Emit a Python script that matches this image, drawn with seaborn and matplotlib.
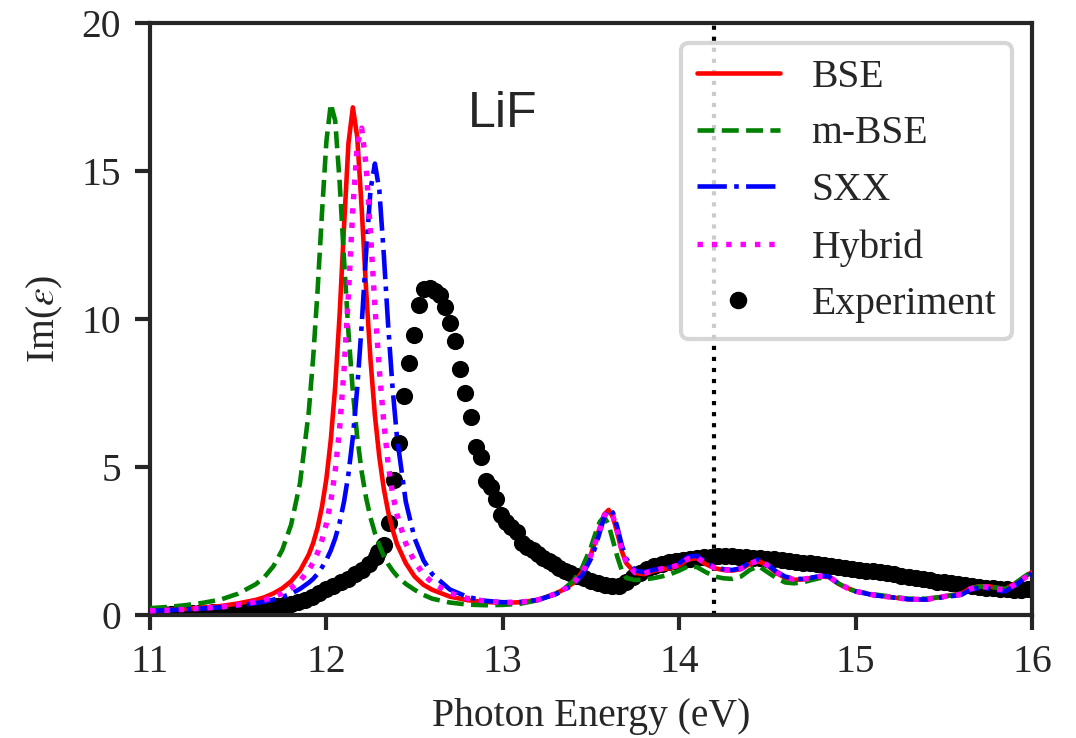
import numpy as np
import pandas as pd
import matplotlib
matplotlib.use("Agg")
import matplotlib.pyplot as plt
import seaborn as sns

# ---------------- data ----------------
energy = [11.0, 11.1, 11.2, 11.3, 11.4, 11.5, 11.6, 11.65, 11.7, 11.75, 11.8, 11.85, 11.9,
          11.925, 11.95, 11.975, 12.0, 12.025, 12.05, 12.075, 12.1, 12.125, 12.15, 12.175, 12.2,
          12.225, 12.25, 12.275, 12.3, 12.325, 12.35, 12.375, 12.4, 12.45, 12.5, 12.55, 12.6,
          12.7, 12.8, 12.9, 13.0, 13.1, 13.2, 13.3, 13.35, 13.4, 13.45, 13.5,
          13.525, 13.55, 13.575, 13.6, 13.625, 13.65, 13.675, 13.7,
          13.75, 13.8, 13.85, 13.9, 13.95, 14.0, 14.05, 14.1, 14.15, 14.2, 14.25, 14.3, 14.35,
          14.4, 14.45, 14.5, 14.55, 14.6, 14.65, 14.7, 14.75, 14.8, 14.85, 14.9, 14.95, 15.0,
          15.1, 15.2, 15.3, 15.4, 15.5, 15.6,
          15.65, 15.7, 15.75, 15.8, 15.85, 15.9, 15.95, 16.0]

bse = [0.15, 0.17, 0.21, 0.25, 0.30, 0.39, 0.51, 0.60, 0.73, 0.90, 1.14, 1.49, 2.04,
       2.43, 2.95, 3.66, 4.60, 5.92, 7.72, 10.15, 13.13, 15.93, 17.15, 16.14, 13.74,
       11.00, 8.62, 6.74, 5.34, 4.28, 3.49, 2.89, 2.40, 1.75, 1.30, 1.02, 0.85,
       0.62, 0.50, 0.44, 0.41, 0.43, 0.51, 0.72, 0.88, 1.08, 1.45, 2.05,
       2.50, 2.95, 3.40, 3.55, 3.30, 2.75, 2.15, 1.75,
       1.42, 1.38, 1.48, 1.55, 1.58, 1.68, 1.88, 1.92, 1.72, 1.58, 1.52, 1.50, 1.55,
       1.72, 1.82, 1.68, 1.42, 1.26, 1.19, 1.20, 1.25, 1.30, 1.28, 1.06, 0.92, 0.80,
       0.68, 0.60, 0.53, 0.52, 0.63, 0.72,
       0.90, 0.97, 0.97, 0.92, 0.87, 1.05, 1.25, 1.45]

mbse = [0.23, 0.27, 0.33, 0.41, 0.52, 0.72, 1.04, 1.29, 1.65, 2.20, 3.05, 4.44, 6.86,
        8.69, 10.96, 13.58, 16.00, 17.27, 16.70, 14.63, 12.00, 9.55, 7.55, 6.00, 4.84,
        3.96, 3.29, 2.77, 2.36, 2.00, 1.72, 1.50, 1.32, 1.05, 0.85, 0.68, 0.55,
        0.42, 0.35, 0.33, 0.34, 0.38, 0.50, 0.72, 0.90, 1.15, 1.60, 2.30,
        2.75, 3.15, 3.32, 3.05, 2.50, 1.95, 1.50, 1.25,
        1.18, 1.20, 1.24, 1.30, 1.38, 1.50, 1.64, 1.62, 1.45, 1.30, 1.24, 1.22, 1.30,
        1.52, 1.65, 1.45, 1.25, 1.10, 1.07, 1.10, 1.18, 1.25, 1.27, 1.08, 0.90, 0.80,
        0.70, 0.62, 0.55, 0.55, 0.62, 0.72,
        0.90, 0.96, 0.96, 0.92, 0.88, 1.05, 1.27, 1.47]

sxx = [0.14, 0.16, 0.19, 0.22, 0.26, 0.32, 0.40, 0.45, 0.52, 0.61, 0.72, 0.88, 1.09,
       1.22, 1.39, 1.61, 1.86, 2.18, 2.59, 3.12, 3.83, 4.76, 6.01, 7.68, 9.80,
       12.22, 14.36, 15.25, 14.36, 12.22, 9.80, 7.68, 6.01, 3.83, 2.59, 1.85, 1.38,
       0.86, 0.61, 0.48, 0.43, 0.44, 0.51, 0.70, 0.85, 1.02, 1.35, 1.90,
       2.30, 2.80, 3.30, 3.58, 3.45, 2.95, 2.35, 1.90,
       1.50, 1.45, 1.52, 1.58, 1.62, 1.75, 1.97, 2.00, 1.78, 1.62, 1.55, 1.52, 1.58,
       1.78, 1.87, 1.70, 1.47, 1.30, 1.22, 1.22, 1.26, 1.32, 1.30, 1.08, 0.92, 0.80,
       0.67, 0.60, 0.53, 0.52, 0.60, 0.68,
       0.85, 0.92, 0.90, 0.82, 0.80, 0.98, 1.20, 1.40]

hybrid = [0.14, 0.16, 0.19, 0.23, 0.27, 0.34, 0.44, 0.51, 0.60, 0.74, 0.91, 1.15, 1.52,
          1.77, 2.10, 2.53, 3.09, 3.84, 4.87, 6.31, 8.28, 10.84, 13.75, 15.90, 16.45,
          15.20, 12.90, 10.43, 8.28, 6.54, 5.10, 4.10, 3.40, 2.42, 1.80, 1.38, 1.09,
          0.74, 0.56, 0.47, 0.42, 0.43, 0.51, 0.72, 0.88, 1.07, 1.43, 2.02,
          2.45, 2.90, 3.35, 3.52, 3.32, 2.80, 2.20, 1.78,
          1.43, 1.40, 1.50, 1.56, 1.60, 1.70, 1.90, 1.95, 1.74, 1.60, 1.53, 1.51, 1.56,
          1.74, 1.84, 1.68, 1.45, 1.28, 1.20, 1.21, 1.25, 1.31, 1.29, 1.08, 0.92, 0.80,
          0.68, 0.60, 0.53, 0.53, 0.62, 0.70,
          0.88, 0.95, 0.94, 0.88, 0.84, 1.02, 1.22, 1.42]

exp_energy = [11.00, 11.04, 11.08, 11.12, 11.16, 11.20, 11.24, 11.28, 11.32, 11.36, 11.40,
              11.44, 11.48, 11.52, 11.56, 11.60, 11.64, 11.68, 11.72, 11.76, 11.80, 11.84,
              11.88, 11.92, 11.96, 12.00, 12.04, 12.08, 12.12, 12.16, 12.20, 12.24, 12.28,
              12.295, 12.324, 12.353, 12.382, 12.411, 12.440, 12.469, 12.498, 12.527, 12.556,
              12.585, 12.614, 12.643, 12.672, 12.701, 12.730, 12.759, 12.788, 12.817, 12.846,
              12.875, 12.904, 12.933, 12.962, 12.991, 13.020, 13.049, 13.078, 13.107,
              13.14, 13.17, 13.20, 13.23, 13.26, 13.29, 13.32, 13.35, 13.38,
              13.42, 13.46, 13.50, 13.54, 13.58, 13.62, 13.66, 13.70, 13.74, 13.78, 13.82,
              13.86, 13.90, 13.94, 13.98, 14.02, 14.06, 14.10, 14.14, 14.18, 14.22, 14.26,
              14.30, 14.34, 14.38, 14.42, 14.46, 14.50, 14.54, 14.58, 14.62, 14.66, 14.70,
              14.74, 14.78, 14.82, 14.86, 14.90, 14.94, 14.98, 15.02, 15.06, 15.10, 15.14,
              15.18, 15.22, 15.26, 15.30, 15.34, 15.38, 15.42, 15.46, 15.50, 15.54, 15.58,
              15.62, 15.66, 15.70, 15.74, 15.78, 15.82, 15.86, 15.90, 15.94, 15.98, 16.00]

exp_value = [0.03, 0.03, 0.04, 0.04, 0.05, 0.05, 0.06, 0.07, 0.08, 0.09, 0.10,
             0.11, 0.13, 0.15, 0.17, 0.19, 0.22, 0.25, 0.29, 0.33, 0.38, 0.44,
             0.52, 0.62, 0.74, 0.87, 0.99, 1.10, 1.22, 1.37, 1.53, 1.72, 1.95,
             2.12, 2.36, 3.12, 4.55, 5.82, 7.40, 8.50, 9.46, 10.47, 11.00,
             11.05, 10.95, 10.82, 10.40, 9.88, 9.27, 8.30, 7.49, 6.70, 5.69,
             5.35, 4.54, 4.34, 3.93, 3.38, 3.15, 2.98, 2.81, 2.42,
             2.30, 2.18, 2.05, 1.93, 1.82, 1.71, 1.60, 1.50, 1.41,
             1.33, 1.24, 1.16, 1.08, 1.02, 0.97, 0.99, 1.10, 1.28, 1.43, 1.56,
             1.65, 1.72, 1.78, 1.83, 1.87, 1.90, 1.93, 1.95, 1.97, 1.98, 1.98,
             1.98, 1.97, 1.96, 1.94, 1.92, 1.90, 1.88, 1.85, 1.82, 1.80, 1.77,
             1.75, 1.72, 1.69, 1.66, 1.62, 1.59, 1.56, 1.53, 1.50, 1.47, 1.44,
             1.41, 1.37, 1.33, 1.29, 1.25, 1.21, 1.17, 1.13, 1.10, 1.07, 1.04,
             1.01, 0.98, 0.95, 0.92, 0.90, 0.88, 0.87, 0.86, 0.86, 0.87, 0.88]

series_names = ["BSE", "m-BSE", "SXX", "Hybrid"]
x_ticks = [11, 12, 13, 14, 15, 16]
y_ticks = [0, 5, 10, 15, 20]
marker_energy = 14.2

# ---------------- styling ----------------
sns.set_style("ticks")
plt.rcParams["font.family"] = ["Liberation Serif", "DejaVu Serif"]
plt.rcParams["mathtext.fontset"] = "stix"
plt.rcParams["axes.linewidth"] = 1.0
plt.rcParams["xtick.major.width"] = 1.0
plt.rcParams["ytick.major.width"] = 1.0
plt.rcParams["xtick.direction"] = "out"
plt.rcParams["ytick.direction"] = "out"

FS = 9.5
fig = plt.figure(figsize=(1076 / 300, 738 / 300), dpi=300)
ax = fig.add_axes([0.1394, 0.1667, 0.8197, 0.8021])

theory = pd.DataFrame({"energy": energy, "BSE": bse, "m-BSE": mbse, "SXX": sxx, "Hybrid": hybrid})
long = theory.melt(id_vars="energy", var_name="method", value_name="im_eps")
expdf = pd.DataFrame({"energy": exp_energy, "im_eps": exp_value})

ax.axvline(marker_energy, color="black", linestyle=":", linewidth=1.0, zorder=1)

sns.scatterplot(data=expdf, x="energy", y="im_eps", ax=ax, color="black", s=17,
                linewidth=0, zorder=2, legend=False)

styles = {"BSE": ("red", "-"), "m-BSE": ("green", "--"), "SXX": ("blue", "-."), "Hybrid": ("magenta", ":")}
handles = {}
for name in series_names:
    col, ls = styles[name]
    sub = long[long["method"] == name]
    sns.lineplot(data=sub, x="energy", y="im_eps", ax=ax, color=col, linestyle=ls,
                 linewidth=1.1 if name != "Hybrid" else 1.3, zorder=3, legend=False,
                 estimator=None, sort=False)
    handles[name] = ax.lines[-1]

exp_handle = plt.Line2D([], [], color="black", marker="o", linestyle="none", markersize=3.2)

ax.set_xlim(11, 16)
ax.set_ylim(0, 20)
ax.set_xticks(x_ticks)
ax.set_yticks(y_ticks)
ax.tick_params(labelsize=FS, length=3.5)
ax.set_xlabel("Photon Energy (eV)", fontsize=FS)
ax.set_ylabel(r"Im($\varepsilon$)", fontsize=FS)

ax.text(12.8, 16.5, "LiF", fontsize=12, family=["Liberation Sans", "DejaVu Sans"])

ax.legend([handles[n] for n in series_names] + [exp_handle], series_names + ["Experiment"],
          loc="upper right", fontsize=FS, handlelength=2.1, handletextpad=0.8,
          frameon=True, fancybox=True, framealpha=0.8, edgecolor="0.8")

fig.savefig("out.png", dpi=300)
